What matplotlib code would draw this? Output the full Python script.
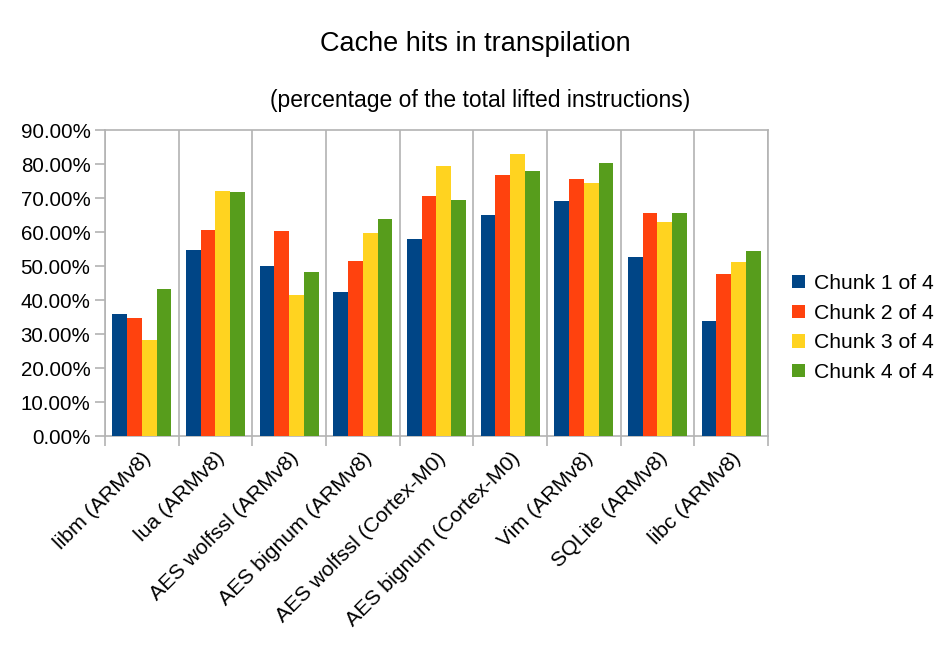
import matplotlib
matplotlib.use("Agg")
import matplotlib.pyplot as plt
import numpy as np
from matplotlib.ticker import FuncFormatter, FixedLocator
from matplotlib.patches import Patch

plt.rcParams['font.family'] = ['Liberation Sans', 'DejaVu Sans']

categories = ["libm (ARMv8)", "lua (ARMv8)", "AES wolfssl (ARMv8)", "AES bignum (ARMv8)",
              "AES wolfssl (Cortex-M0)", "AES bignum (Cortex-M0)", "Vim (ARMv8)",
              "SQLite (ARMv8)", "libc (ARMv8)"]
series_names = ["Chunk 1 of 4", "Chunk 2 of 4", "Chunk 3 of 4", "Chunk 4 of 4"]
chunk1 = [35.9, 54.8, 49.9, 42.5, 57.8, 65.0, 69.1, 52.7, 33.9]
chunk2 = [34.7, 60.7, 60.4, 51.5, 70.5, 76.7, 75.5, 65.5, 47.7]
chunk3 = [28.3, 72.1, 41.5, 59.6, 79.3, 82.9, 74.4, 63.0, 51.2]
chunk4 = [43.1, 71.7, 48.3, 63.9, 69.3, 78.0, 80.2, 65.5, 54.4]
colors = ["#004586", "#ff420e", "#ffd320", "#579d1c"]

fig = plt.figure(figsize=(9.45, 6.56), dpi=100)
ax = fig.add_axes([105/945, 1-436/656, (768-105)/945, (436-130)/656])

x = np.arange(len(categories))
w = 0.2
for i, (vals, c) in enumerate(zip([chunk1, chunk2, chunk3, chunk4], colors)):
    ax.bar(x + (i - 1.5) * w, vals, width=w, color=c, edgecolor='none', zorder=3)

ax.set_xlim(-0.5, len(categories) - 0.5)
ax.set_ylim(0, 90)
ax.set_yticks(np.arange(0, 91, 10))
ax.yaxis.set_major_formatter(FuncFormatter(lambda v, p: f"{v:.2f}%"))
ax.tick_params(axis='y', labelsize=14.8, length=7, color='#b3b3b3', width=1.2, direction='out', pad=3.5)

# category boundaries as major ticks (with grid), labels as minor ticks
ax.xaxis.set_major_locator(FixedLocator(np.arange(-0.5, len(categories), 1)))
ax.xaxis.set_minor_locator(FixedLocator(x))
ax.set_xticklabels([], minor=False)
ax.set_xticklabels(categories, minor=True, rotation=45, ha='right', rotation_mode='anchor', fontsize=15.3)
ax.tick_params(axis='x', which='major', length=7, color='#b3b3b3', width=1.2)
ax.tick_params(axis='x', which='minor', length=0, pad=9)
ax.grid(axis='x', which='major', color='#b3b3b3', linewidth=1.2, zorder=0)

for s in ax.spines.values():
    s.set_color('#b3b3b3')
    s.set_linewidth(1.2)

fig.text(475/945, 1-44/656, "Cache hits in transpilation", ha='center', va='center', fontsize=19.5)
fig.text(480/945, 1-100/656, "(percentage of the total lifted instructions)", ha='center', va='center', fontsize=16.5)

handles = [Patch(facecolor=c, edgecolor='none', label=n) for c, n in zip(colors, series_names)]
fig.legend(handles=handles, loc='center left', bbox_to_anchor=(773/945, 1-328/656), frameon=False,
           fontsize=15.2, handlelength=0.6, handleheight=0.6, handletextpad=0.45, labelspacing=0.5)

fig.savefig("out.png", dpi=100)
